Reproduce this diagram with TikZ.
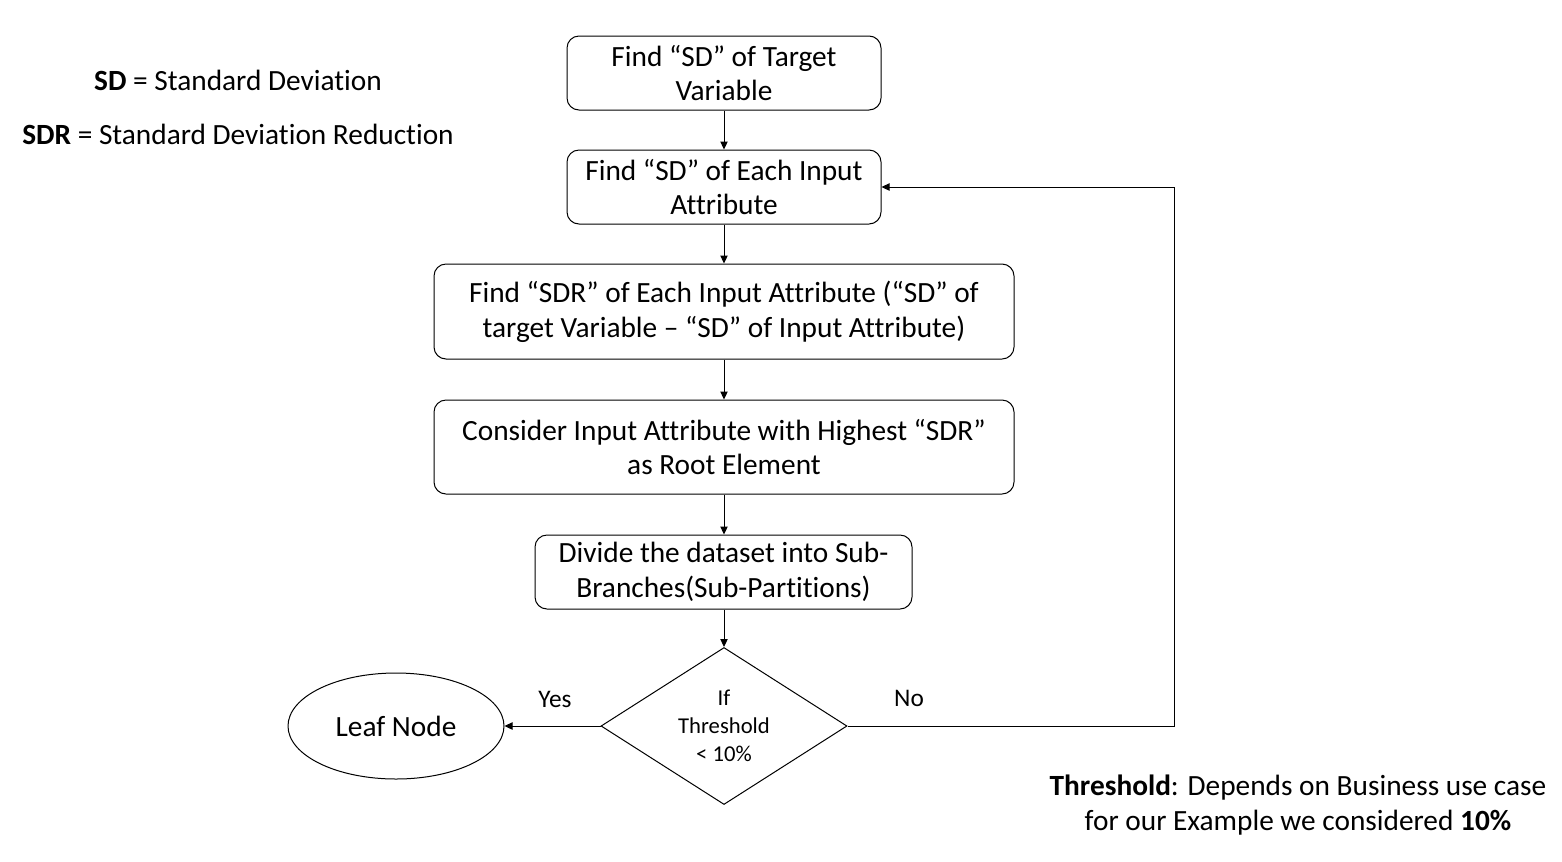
\documentclass[tikz,border=0pt]{standalone}
\usepackage{fontspec}
\setmainfont{Carlito}[Ligatures=NoCommon]
\usetikzlibrary{arrows.meta,shapes.geometric}
\begin{document}
\begin{tikzpicture}[x=0.75pt,y=-0.75pt,
  box/.style={draw=black,line width=0.75pt,rounded corners=9pt,inner sep=0pt,align=center,
    font=\fontsize{22}{26}\selectfont},
  dec/.style={draw=black,line width=0.75pt,shape=diamond,aspect=1.567,inner sep=0pt,align=center,
    font=\fontsize{17}{21}\selectfont,minimum width=184.5pt,minimum height=117.75pt},
  leaf/.style={draw=black,line width=0.75pt,shape=ellipse,inner sep=0pt,
    font=\fontsize{22}{26}\selectfont,minimum width=162pt,minimum height=79.5pt},
  lbl/.style={inner sep=0pt,font=\fontsize{19}{22}\selectfont},
  note/.style={inner sep=0pt,align=center,font=\fontsize{22}{26}\selectfont},
  arr/.style={draw=black,line width=0.75pt,-{Triangle[length=6pt,width=5.5pt]}}]
\useasboundingbox (0,0) rectangle (1562,861);
\fill[white] (0,0) rectangle (1562,861);

\node[box,minimum width=235.5pt,minimum height=55.5pt] (b1) at (724,73) {Find “SD” of Target\\Variable};
\node[box,minimum width=235.5pt,minimum height=55.5pt] (b2) at (724,187) {Find “SD” of Each Input\\Attribute};
\node[box,minimum width=435pt,minimum height=71.25pt] (b3) at (724,311.5) {Find “SDR” of Each Input Attribute (“SD” of\\target Variable – “SD” of Input Attribute)};
\node[box,minimum width=435pt,minimum height=70.5pt] (b4) at (724,447) {Consider Input Attribute with Highest “SDR”\\as Root Element};
\node[box,minimum width=282.75pt,minimum height=55.5pt] (b5) at (723.5,572) {Divide the dataset into Sub-\\Branches(Sub-Partitions)};
\node[dec] (d) at (724,726) {If\\Threshold\\< 10\%};
\node[leaf] (leaf) at (396,726) {Leaf Node};

\coordinate (c1) at (1174,726);
\coordinate (c2) at (1174,187);

\draw[arr] (b1) -- (b2);
\draw[arr] (b2) -- (b3);
\draw[arr] (b3) -- (b4);
\draw[arr] (b4) -- (b4 |- b5.north);
\draw[arr] (b5.south -| d) -- (d);
\draw[arr] (d) -- (leaf);
\draw[arr] (d.east) -- (c1) -- (c2) -- (b2.east);

\node[lbl] (yes) at (555,699) {Yes};
\node[lbl] (no) at (909,698) {No};

\node[note] (sd) at (238,80) {\textbf{SD} = Standard Deviation};
\node[note] (sdr) at (238,134) {\textbf{SDR} = Standard Deviation Reduction};
\node[note] (thr) at (1298,805) {\textbf{Threshold}: Depends on Business use case\\for our Example we considered \textbf{10\%}};
\end{tikzpicture}
\end{document}
